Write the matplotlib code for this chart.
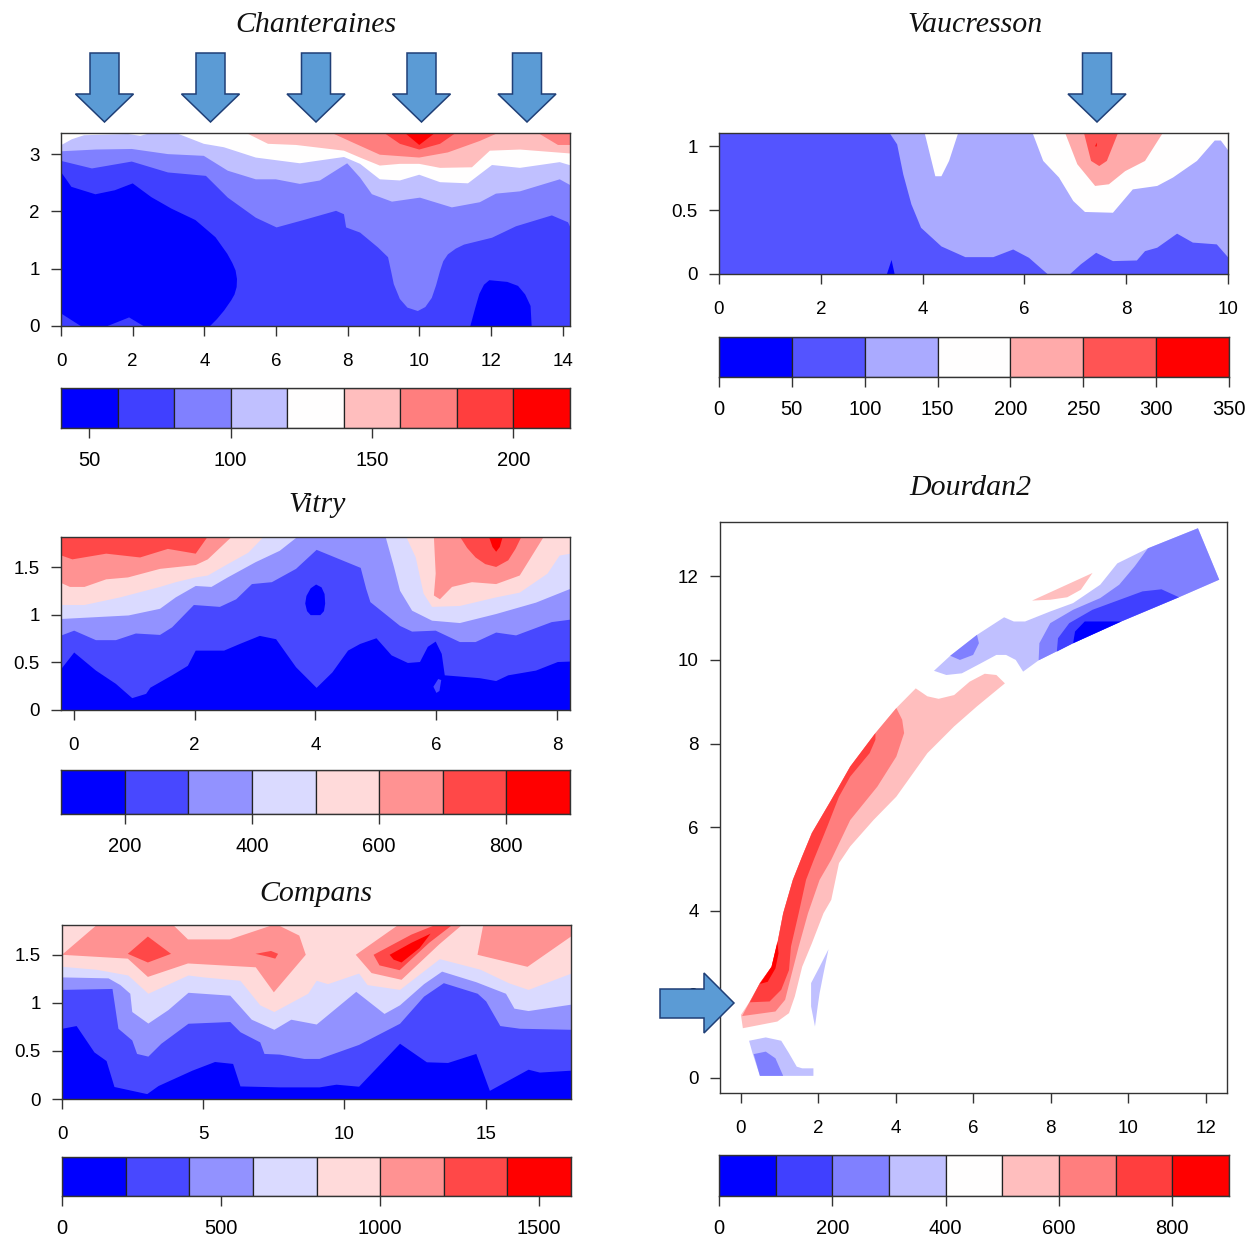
import matplotlib
matplotlib.use('Agg')
import matplotlib.pyplot as plt
from matplotlib.colors import LinearSegmentedColormap
from matplotlib.patches import Polygon
import numpy as np

# contour lines, as (x, height) in metres
# each iso list = height where the value passes the level, area above gets next class

# Chanteraines
ch_levels = [40, 60, 80, 100, 120, 140, 160, 180, 200, 220]
ch_ticks = [50, 100, 150, 200]
ch_blue1 = [(0, 2.69), (.29, 2.43), (.96, 2.30), (1.5, 2.37), (2, 2.49), (2.52, 2.25), (3.08, 2.05), (3.75, 1.85),
            (4.31, 1.55), (4.64, 1.26), (4.78, 1.1), (4.87, .97), (4.91, .82), (4.9, .68), (4.84, .55), (4.75, .45),
            (4.55, .27), (4.35, .12), (4.16, 0), (2.3, 0), (1.9, .15), (1.3, 0), (.55, 0), (0, .22)]
ch_blue2 = [(11.42, 0), (11.55, .3), (11.67, .56), (11.8, .72), (11.95, .80), (12.45, .77), (12.75, .70), (12.95, .55),
            (13.1, .35), (13.13, 0)]
ch_iso80 = [(0, 2.89), (.85, 2.76), (1.96, 2.88), (2.97, 2.69), (4.03, 2.63), (4.64, 2.25), (5.42, 1.90), (6, 1.73),
            (6.76, 1.86), (7.66, 2.02), (7.88, 1.96), (7.94, 1.73), (8.33, 1.64), (8.83, 1.38), (9.11, 1.21), (9.2, .95),
            (9.27, .74), (9.44, .48), (9.65, .33), (9.94, .27), (10.15, .34), (10.33, .50), (10.45, .72), (10.56, .97),
            (10.65, 1.14), (10.78, 1.26), (11.0, 1.36), (11.23, 1.43), (12.01, 1.55), (12.68, 1.75), (13.68, 1.94),
            (14.13, 1.82), (14.22, 1.70)]
ch_iso100 = [(0, 3.06), (.96, 3.09), (1.96, 3.10), (2.97, 3.01), (3.97, 2.98), (4.64, 2.72), (5.42, 2.57), (5.98, 2.57),
             (6.65, 2.49), (7.21, 2.55), (7.97, 2.85), (8.33, 2.60), (8.66, 2.31), (9.22, 2.18), (10, 2.25),
             (10.89, 2.08), (11.67, 2.17), (12.12, 2.32), (12.79, 2.36), (13.9, 2.57), (14.22, 2.46)]
ch_iso120 = [(0, 3.17), (.29, 3.27), (.63, 3.34), (1.86, 3.36), (2.2, 3.33), (2.5, 3.38), (3.19, 3.38), (3.97, 3.19),
             (4.53, 3.13), (5.42, 2.95), (6.65, 2.85), (7.88, 2.96), (8.33, 2.84), (8.88, 2.57), (9.44, 2.55),
             (9.98, 2.65), (10.56, 2.52), (11.34, 2.50), (12.01, 2.82), (12.79, 2.77), (13.9, 2.87), (14.22, 2.81)]
ch_iso140 = [(5.15, 3.38), (5.76, 3.19), (6.54, 3.17), (7.88, 3.07), (8.33, 2.95), (8.88, 2.81), (9.44, 2.84),
             (9.98, 2.84), (10.56, 2.77), (11.45, 2.78), (11.95, 3.07), (12.79, 3.09), (14.22, 3.02)]
ch_iso160a = [(7.54, 3.38), (8.1, 3.22), (8.88, 3.0), (9.98, 2.95), (10.78, 3.04), (11.67, 3.24), (12.18, 3.38)]
ch_iso160b = [(13.29, 3.38), (13.85, 3.17), (14.22, 3.17)]
ch_iso180 = [(9, 3.38), (9.44, 3.19), (9.98, 3.09), (10.56, 3.19), (11, 3.38)]
ch_iso200 = [(9.58, 3.38), (9.98, 3.17), (10.42, 3.38)]

# Vaucresson
va_levels = [0, 50, 100, 150, 200, 250, 300, 350]
va_ticks = [0, 50, 100, 150, 200, 250, 300, 350]
va_iso100 = [(3.34, 1.11), (3.49, 1.02), (3.61, .785), (3.77, .55), (3.96, .366), (4.36, .22), (4.83, .136), (5.38, .136),
             (5.77, .196), (6.08, .131), (6.44, .005), (6.5, -.01), (6.85, -.01), (7.1, .08), (7.4, .17), (7.73, .105),
             (8.2, .11), (8.36, .183), (8.6, .21), (8.99, .32), (9.3, .25), (9.77, .236), (10, .131)]
va_iso150a = [(4.03, 1.11), (4.24, .77), (4.36, .77), (4.51, .89), (4.69, 1.11)]
va_iso150b = [(6.15, 1.11), (6.36, .89), (6.67, .76), (6.95, .576), (7.18, .49), (7.73, .484), (8.12, .667), (8.6, .694),
              (8.91, .76), (9.38, .89), (9.73, 1.05), (9.85, 1.05), (10, .97)]
va_iso200 = [(6.79, 1.11), (7.03, .864), (7.38, .694), (7.65, .707), (7.97, .81), (8.36, .89), (8.71, 1.11)]
va_iso250 = [(7.16, 1.11), (7.3, .89), (7.46, .85), (7.61, .89), (7.83, 1.11)]
va_red = [(7.39, 1.0), (7.42, 1.03), (7.42, 1.0)]
va_blue = [(3.3, 0), (3.39, .11), (3.45, 0)]

# Vitry
vi_levels = [100, 200, 300, 400, 500, 600, 700, 800, 900]
vi_ticks = [200, 400, 600, 800]
vi_iso200 = [(-.21, .44), (0, .61), (.36, .42), (.69, .28), (.96, .13), (1.19, .175), (1.26, .24), (1.62, .37), (1.88, .47),
             (2.01, .63), (2.48, .63), (2.74, .70), (3.07, .785), (3.34, .75), (3.67, .455), (4.01, .238), (4.27, .40),
             (4.53, .63), (4.73, .70), (5.0, .76), (5.25, .58), (5.52, .50), (5.72, .51), (5.85, .67), (5.98, .725),
             (6.08, .595), (6.13, .37), (6.71, .34), (6.98, .31), (7.18, .37), (7.64, .42), (8.0, .51), (8.21, .515)]
vi_spot = [(5.95, .245), (6.03, .326), (6.08, .315), (6.05, .2), (6.0, .18)]
vi_iso300 = [(-.21, .79), (0, .84), (.36, .74), (.69, .74), (1.02, .81), (1.42, .795), (1.62, .875), (1.98, 1.11), (2.41, 1.09),
             (2.68, 1.17), (2.94, 1.33), (3.27, 1.35), (3.67, 1.49), (4.01, 1.69), (4.74, 1.50), (4.83, 1.28), (4.9, 1.14),
             (5.39, .89), (5.59, .83), (5.98, .84), (6.38, .72), (6.64, .72), (6.98, .82), (7.31, .79), (7.9, .93), (8.21, .956)]
vi_hole = [(3.83, 1.12), (3.85, 1.2), (3.92, 1.28), (4.01, 1.32), (4.1, 1.29), (4.15, 1.22), (4.16, 1.12), (4.14, 1.04),
           (4.08, .998), (3.92, .998), (3.86, 1.04)]
vi_iso400a = [(-.21, .963), (.3, .98), (.9, 1.0), (1.42, 1.07), (1.68, 1.19), (2.01, 1.31), (2.27, 1.30), (2.54, 1.40),
              (3.0, 1.56), (3.4, 1.68), (3.7, 1.83)]
vi_iso400b = [(5.15, 1.83), (5.29, 1.51), (5.39, 1.26), (5.59, 1.05), (5.92, .945), (6.38, .92), (6.98, 1.015), (7.64, 1.135),
              (8.21, 1.28)]
vi_iso500a = [(-.21, 1.11), (.17, 1.11), (.76, 1.19), (1.42, 1.30), (1.68, 1.35), (2.01, 1.40), (2.21, 1.42), (2.54, 1.54),
              (2.88, 1.66), (3.14, 1.83)]
vi_iso500b = [(5.49, 1.83), (5.65, 1.61), (5.78, 1.23), (5.92, 1.09), (6.38, 1.10), (6.98, 1.19), (7.37, 1.24), (7.83, 1.44),
              (8.03, 1.63), (8.21, 1.65)]
vi_iso600a = [(-.21, 1.34), (-.07, 1.30), (.17, 1.30), (.53, 1.38), (.89, 1.40), (1.42, 1.49), (2.01, 1.53), (2.21, 1.59),
              (2.61, 1.83)]
vi_iso600b = [(5.95, 1.83), (5.98, 1.44), (5.95, 1.21), (6.05, 1.17), (6.25, 1.30), (6.58, 1.35), (6.98, 1.33), (7.37, 1.42),
              (7.77, 1.83)]
vi_iso700a = [(-.21, 1.63), (-.03, 1.59), (.53, 1.65), (1.09, 1.61), (1.55, 1.70), (2.01, 1.65), (2.21, 1.83)]
vi_iso700b = [(6.38, 1.83), (6.5, 1.71), (6.64, 1.61), (6.8, 1.54), (6.98, 1.51), (7.18, 1.58), (7.3, 1.7), (7.4, 1.83)]
vi_iso800 = [(6.86, 1.83), (6.92, 1.72), (6.98, 1.67), (7.04, 1.72), (7.09, 1.83)]

# Compans
co_levels = [0, 200, 400, 600, 800, 1000, 1200, 1400, 1600]
co_ticks = [0, 500, 1000, 1500]
co_iso200 = [(0, .736), (.5, .764), (1.13, .49), (1.56, .40), (1.84, .13), (3.0, .056), (3.4, .14), (4.6, .30), (5.4, .39),
             (6.04, .37), (6.3, .136), (7.7, .126), (9.1, .126), (9.7, .154), (10.5, .133), (11.95, .58), (12.9, .387),
             (13.65, .38), (14.65, .474), (15.13, .09), (16.5, .31), (16.9, .28), (18.02, .30)]
co_iso400 = [(0, 1.14), (1.77, 1.15), (1.98, .736), (2.47, .614), (2.64, .474), (3.04, .446), (3.5, .58), (4.46, .788),
             (5.94, .806), (6.3, .70), (7.0, .594), (7.15, .474), (7.7, .467), (8.56, .422), (9.1, .422), (10.5, .568),
             (11.95, .788), (12.8, 1.07), (13.5, 1.21), (14.7, 1.10), (15, 1.02), (15.5, .764), (16.2, .736), (18.02, .725)]
co_iso600 = [(0, 1.27), (1.63, 1.26), (2.05, 1.19), (2.4, 1.10), (2.47, .91), (3.04, .79), (3.75, .93), (4.46, 1.11),
             (5.94, 1.08), (6.7, .83), (7.5, .725), (8.1, .83), (9, .78), (10.4, 1.12), (11.4, .89), (11.95, .98),
             (12.8, 1.2), (13.44, 1.33), (14.65, 1.22), (15.7, 1.10), (16, .945), (16.5, .92), (18.02, .987)]
co_iso800 = [(0, 1.38), (1.2, 1.35), (2.33, 1.29), (3.04, 1.10), (4.46, 1.29), (5, 1.27), (6.3, 1.235), (7, .98), (7.5, .91),
             (8.7, 1.10), (9, 1.235), (9.4, 1.20), (10.5, 1.31), (10.8, 1.19), (11.95, 1.14), (13.36, 1.46), (14.8, 1.35),
             (15.8, 1.21), (16.5, 1.14), (18.02, 1.31)]
co_a1000 = [(0, 1.5), (1.27, 1.82), (3.9, 1.82), (4.46, 1.66), (5.94, 1.66), (7.57, 1.82), (8.4, 1.70), (8.63, 1.5),
            (7.5, 1.11), (6.86, 1.37), (4.46, 1.41), (3.04, 1.27), (2.33, 1.46)]
co_b1000 = [(10.4, 1.5), (11.95, 1.82), (14.2, 1.82), (13.36, 1.61), (12.02, 1.24), (10.96, 1.31)]
co_c1000 = [(14.71, 1.5), (14.92, 1.82), (18.02, 1.82), (18.02, 1.69), (16.48, 1.375)]
co_a1200 = [(2.33, 1.51), (3.04, 1.69), (3.86, 1.51), (3.04, 1.42)]
co_b1200 = [(6.85, 1.51), (7.4, 1.54), (7.65, 1.51), (7.55, 1.46), (7.3, 1.48)]
co_c1200 = [(11.03, 1.50), (12.37, 1.71), (13.3, 1.82), (13.86, 1.82), (13.0, 1.625), (11.95, 1.34), (11.24, 1.39)]
co_1400 = [(11.6, 1.50), (12.37, 1.625), (13.05, 1.72), (12.66, 1.57), (12.02, 1.42), (11.74, 1.45)]

# Dourdan2, outlines of the coloured zones along the track
do_levels = [0, 100, 200, 300, 400, 500, 600, 700, 800, 900]
do_ticks = [0, 200, 400, 600, 800]
do_500 = [(.06, 1.19), (.01, 1.51), (.24, 1.83), (.50, 2.27), (.80, 2.66), (.95, 3.22), (1.10, 3.94), (1.35, 4.74), (1.59, 5.30),
          (1.84, 5.86), (2.34, 6.65), (2.83, 7.45), (3.48, 8.25), (4.02, 8.85), (4.52, 9.32), (4.82, 9.13), (5.11, 9.07),
          (5.51, 9.16), (5.91, 9.48), (6.30, 9.67), (6.60, 9.64), (6.82, 9.44), (6.10, 8.89), (5.51, 8.41), (4.82, 7.77),
          (4.02, 6.73), (3.43, 6.17), (2.83, 5.54), (2.54, 5.14), (2.34, 4.26), (2.14, 3.94), (1.84, 3.22), (1.59, 2.66),
          (1.40, 1.95), (1.25, 1.55), (.95, 1.35)]
do_600 = [(.04, 1.48), (.24, 1.83), (.50, 2.27), (.80, 2.66), (.95, 3.22), (1.10, 3.94), (1.35, 4.74), (1.59, 5.30), (1.84, 5.86),
          (2.34, 6.65), (2.83, 7.45), (3.48, 8.25), (4.02, 8.85), (4.17, 8.57), (4.22, 8.25), (4.02, 7.69), (3.53, 6.97),
          (2.83, 6.17), (2.34, 5.22), (2.04, 4.74), (1.74, 3.94), (1.50, 3.14), (1.30, 2.42), (1.15, 1.87), (.90, 1.59)]
do_700 = [(.24, 1.81), (.50, 2.27), (.80, 2.66), (.95, 3.22), (1.10, 3.94), (1.35, 4.74), (1.59, 5.30), (1.84, 5.86), (2.34, 6.65),
          (2.83, 7.45), (3.48, 8.25), (3.48, 8.09), (3.33, 7.77), (2.83, 7.21), (2.54, 6.73), (2.24, 6.02), (1.89, 5.22),
          (1.69, 4.74), (1.50, 3.94), (1.30, 3.14), (1.25, 2.58), (1.05, 2.11), (.75, 1.83)]
do_800 = [(.50, 2.25), (.80, 2.66), (.95, 3.26), (.98, 2.98), (.90, 2.62), (.70, 2.30)]
do_500_spot = [(7.52, 11.42), (9.08, 12.08), (8.78, 11.68), (8.43, 11.50), (7.99, 11.44)]
do_300 = [(4.99, 9.74), (5.41, 10.10), (6.10, 10.60), (6.80, 11.02), (7.05, 10.92), (7.34, 10.92), (7.99, 11.16), (8.58, 11.36),
          (9.28, 11.80), (9.72, 12.31), (10.51, 12.67), (11.80, 13.15), (12.35, 11.92), (11.31, 11.50), (9.82, 10.92),
          (8.58, 10.40), (7.69, 9.99), (7.29, 9.72), (7.10, 10.0), (6.85, 10.12), (6.60, 10.12), (6.20, 9.92), (5.71, 9.68),
          (5.31, 9.64)]
do_200 = [(7.69, 9.99), (7.71, 10.40), (7.99, 10.88), (8.58, 11.20), (9.28, 11.48), (9.77, 11.80), (10.17, 12.24), (10.51, 12.67),
          (11.80, 13.15), (12.35, 11.92), (11.31, 11.50), (9.82, 10.92), (8.58, 10.40)]
do_100 = [(8.16, 10.20), (8.19, 10.52), (8.48, 10.88), (9.08, 11.20), (10.37, 11.64), (10.86, 11.69), (11.31, 11.50), (9.82, 10.92),
          (8.58, 10.40)]
do_0 = [(8.58, 10.40), (8.63, 10.68), (8.88, 10.92), (9.82, 10.92)]
do_200_spot = [(5.41, 10.10), (6.10, 10.60), (6.15, 10.40), (6.0, 10.12), (5.66, 10.0)]
do_300_sliver = [(2.27, 3.08), (2.04, 2.66), (1.82, 2.27), (1.82, 1.71), (1.92, 1.23), (1.99, 1.71), (2.04, 2.03), (2.14, 2.5)]
do_300_foot = [(.22, .89), (.65, .97), (1.05, .89), (1.25, .59), (1.45, .27), (1.59, .23), (1.88, .23), (1.88, .05), (.50, .05), (.31, .59)]
do_200_foot = [(.34, .57), (.65, .63), (.90, .47), (1.10, .05), (.50, .05)]

W, H = 1250, 1237
ramp = LinearSegmentedColormap.from_list('bwr_r', ['#0000FF', '#FFFFFF', '#FF0000'])
plt.rcParams['font.family'] = ['Liberation Sans', 'DejaVu Sans']
plt.rcParams['font.size'] = 13
INK = '#333333'

fig = plt.figure(figsize=(W / 100, H / 100), dpi=100)


def px_axes(x0, y0, x1, y1):
    return fig.add_axes([x0 / W, 1 - y1 / H, (x1 - x0) / W, (y1 - y0) / H])


def class_colors(levels):
    n = len(levels) - 1
    return [ramp(i / (n - 1)) for i in range(n)]


def style(ax, xticks, yticks, xlabels, ylabels):
    for s in ax.spines.values():
        s.set_linewidth(1.0)
        s.set_color(INK)
    ax.set_xticks(xticks, xlabels)
    ax.set_yticks(yticks, ylabels)
    ax.tick_params(axis='x', length=7.2, width=1, color=INK, pad=12.5, labelsize=13.5)
    ax.tick_params(axis='y', length=7.2, width=1, color=INK, pad=8, labelsize=13.5)


def above(ax, line, color):
    # paint everything over a contour line
    xs, ys = zip(*line)
    ax.fill_between(xs, ys, ax.get_ylim()[1], color=color, lw=0)


def zone(ax, outline, color):
    xs, ys = zip(*outline)
    ax.fill(xs, ys, color=color, lw=0)


def key(box, levels, ticks):
    ax = px_axes(*box)
    ax.bar(levels[:-1], 1, np.diff(levels), align='edge', color=class_colors(levels), edgecolor='#222222', linewidth=0.9)
    ax.set_xlim(levels[0], levels[-1])
    ax.set_ylim(0, 1)
    ax.set_yticks([])
    ax.set_xticks(ticks, [str(t) for t in ticks])
    ax.tick_params(axis='x', length=7.2, width=1, color=INK, pad=9.5, labelsize=14.5)
    for s in ax.spines.values():
        s.set_linewidth(1.0)
        s.set_color(INK)


# Chanteraines
c = class_colors(ch_levels)
ax = px_axes(61, 133, 570, 326)
ax.set_xlim(0, 14.2)
ax.set_ylim(0, 3.37)
ax.set_facecolor(c[1])
zone(ax, ch_blue1, c[0])
zone(ax, ch_blue2, c[0])
above(ax, ch_iso80, c[2])
above(ax, ch_iso100, c[3])
above(ax, ch_iso120, c[4])
above(ax, ch_iso140, c[5])
above(ax, ch_iso160a, c[6])
above(ax, ch_iso160b, c[6])
above(ax, ch_iso180, c[7])
above(ax, ch_iso200, c[8])
style(ax, range(0, 15, 2), range(0, 4), [str(t) for t in range(0, 15, 2)], ['0', '1', '2', '3'])
key((61, 388, 570, 428), ch_levels, ch_ticks)

# Vaucresson
c = class_colors(va_levels)
ax = px_axes(719, 133, 1228, 274)
ax.set_xlim(0, 10)
ax.set_ylim(0, 1.105)
ax.set_facecolor(c[1])
zone(ax, va_blue, c[0])
above(ax, va_iso100, c[2])
above(ax, va_iso150a, c[3])
above(ax, va_iso150b, c[3])
above(ax, va_iso200, c[4])
above(ax, va_iso250, c[5])
zone(ax, va_red, c[6])
style(ax, range(0, 11, 2), [0, .5, 1], [str(t) for t in range(0, 11, 2)], ['0', '0.5', '1'])
key((719, 337, 1229, 377), va_levels, va_ticks)

# Vitry
c = class_colors(vi_levels)
ax = px_axes(61, 537, 570, 710)
ax.set_xlim(-.21, 8.21)
ax.set_ylim(0, 1.82)
ax.set_facecolor(c[0])
above(ax, vi_iso200, c[1])
zone(ax, vi_spot, c[1])
above(ax, vi_iso300, c[2])
zone(ax, vi_hole, c[0])
above(ax, vi_iso400a, c[3])
above(ax, vi_iso400b, c[3])
above(ax, vi_iso500a, c[4])
above(ax, vi_iso500b, c[4])
above(ax, vi_iso600a, c[5])
above(ax, vi_iso600b, c[5])
above(ax, vi_iso700a, c[6])
above(ax, vi_iso700b, c[6])
above(ax, vi_iso800, c[7])
style(ax, range(0, 9, 2), [0, .5, 1, 1.5], [str(t) for t in range(0, 9, 2)], ['0', '0.5', '1', '1.5'])
key((61, 770, 570, 814), vi_levels, vi_ticks)

# Compans
c = class_colors(co_levels)
ax = px_axes(62, 925, 571, 1099)
ax.set_xlim(0, 18.02)
ax.set_ylim(0, 1.81)
ax.set_facecolor(c[0])
above(ax, co_iso200, c[1])
above(ax, co_iso400, c[2])
above(ax, co_iso600, c[3])
above(ax, co_iso800, c[4])
zone(ax, co_a1000, c[5])
zone(ax, co_b1000, c[5])
zone(ax, co_c1000, c[5])
zone(ax, co_a1200, c[6])
zone(ax, co_b1200, c[6])
zone(ax, co_c1200, c[6])
zone(ax, co_1400, c[7])
style(ax, range(0, 16, 5), [0, .5, 1, 1.5], ['0', '5', '10', '15'], ['0', '0.5', '1', '1.5'])
key((62, 1157, 571, 1196), co_levels, co_ticks)

# Dourdan2
c = class_colors(do_levels)
ax = px_axes(720, 522, 1227, 1093)
ax.set_xlim(-.53, 12.55)
ax.set_ylim(-.36, 13.3)
for outline, k in [(do_500, 5), (do_600, 6), (do_700, 7), (do_800, 8), (do_500_spot, 5), (do_300, 3), (do_200, 2),
                   (do_100, 1), (do_0, 0), (do_200_spot, 2), (do_300_sliver, 3), (do_300_foot, 3), (do_200_foot, 2)]:
    zone(ax, outline, c[k])
style(ax, range(0, 13, 2), range(0, 13, 2), [str(t) for t in range(0, 13, 2)], [str(t) for t in range(0, 13, 2)])
key((719, 1155, 1229, 1196), do_levels, do_ticks)

# loading arrows and titles in picture pixels
over = fig.add_axes([0, 0, 1, 1], zorder=5)
over.set_xlim(0, W)
over.set_ylim(H, 0)
over.axis('off')
over.patch.set_alpha(0)


def down_arrow(cx):
    over.add_patch(Polygon([(cx - 14.5, 53), (cx + 14.5, 53), (cx + 14.5, 94), (cx + 29, 94), (cx, 122), (cx - 29, 94), (cx - 14.5, 94)],
                           facecolor='#5B9BD5', edgecolor='#1F3F77', lw=1.1))


for cx in [104.5, 210.5, 316, 421.5, 527, 1097]:
    down_arrow(cx)
over.add_patch(Polygon([(660, 989), (704, 989), (704, 973), (734, 1003), (704, 1033), (704, 1018), (660, 1018)],
                       facecolor='#5B9BD5', edgecolor='#1F3F77', lw=1.1))

for name, tx, ty in [('Chanteraines', 316, 25), ('Vaucresson', 975, 25), ('Vitry', 317, 505), ('Dourdan2', 970, 488), ('Compans', 316, 894)]:
    over.text(tx, ty, name, ha='center', va='center', family='Liberation Serif', style='italic', fontsize=21.5, color='#111111')

fig.savefig('out.png', dpi=100)
